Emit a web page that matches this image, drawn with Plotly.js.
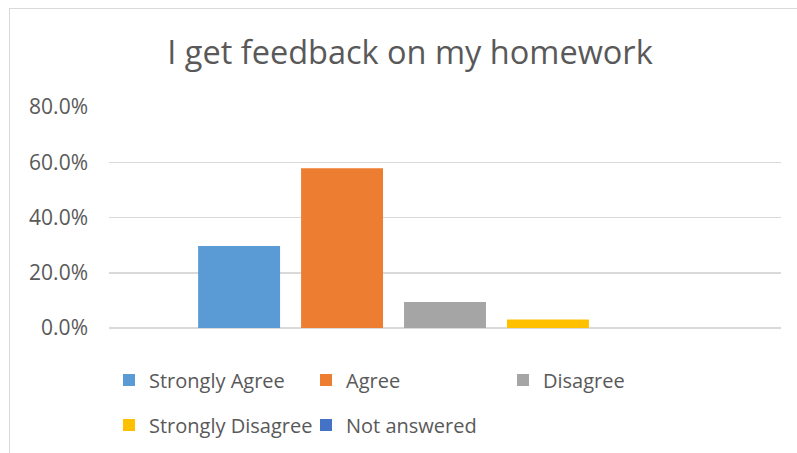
<!DOCTYPE html>
<html>
<head>
<meta charset="utf-8">
<script src="https://cdn.plot.ly/plotly-3.0.1.min.js"></script>
<style>
  html, body { margin: 0; padding: 0; background: #ffffff; overflow: hidden; }
  #wrap { position: relative; width: 797px; height: 453px; }
  #chart { position: absolute; left: 0; top: 0; width: 797px; height: 453px; }
  #frame { position: absolute; left: 9px; top: 8px; width: 800px; height: 460px;
           border: 1.5px solid #d9d9d9; pointer-events: none; box-sizing: border-box; }
</style>
</head>
<body>
<div id="wrap">
  <div id="chart"></div>
  <div id="frame"></div>
</div>
<script>
// ---- data ----
const chartTitle = "I get feedback on my homework";
const category = ["I get feedback on my homework"];
const seriesNames = ["Strongly Agree", "Agree", "Disagree", "Strongly Disagree", "Not answered"];
const stronglyAgree = [29.7];
const agree = [57.8];
const disagree = [9.4];
const stronglyDisagree = [3.1];
const notAnswered = [0.0];
const yTickVals = [0, 20, 40, 60, 80];
const yTickText = ["0.0%", "20.0%", "40.0%", "60.0%", "80.0%"];

const seriesValues = [stronglyAgree, agree, disagree, stronglyDisagree, notAnswered];
const seriesColors = ["#5B9BD5", "#ED7D31", "#A5A5A5", "#FFC000", "#4472C4"];
const seriesLegend = ["legend", "legend", "legend", "legend2", "legend2"];

const textColor = "#595959";
const fontFamily = "'Open Sans', 'Liberation Sans', sans-serif";

const traces = seriesNames.map((name, i) => ({
  type: "bar",
  name: name,
  x: category,
  y: seriesValues[i],
  marker: { color: seriesColors[i], line: { width: 0 } },
  legend: seriesLegend[i],
  hoverinfo: "name+y"
}));

const legendCommon = {
  orientation: "h",
  xref: "paper", yref: "container",
  xanchor: "left", yanchor: "middle",
  entrywidth: 152, entrywidthmode: "pixels",
  font: { family: fontFamily, size: 20, color: textColor },
  bgcolor: "rgba(0,0,0,0)",
  borderwidth: 0,
  traceorder: "normal",
  itemclick: false, itemdoubleclick: false
};

const layout = {
  width: 797,
  height: 453,
  paper_bgcolor: "rgba(0,0,0,0)",
  plot_bgcolor: "rgba(0,0,0,0)",
  margin: { l: 109, r: 16, t: 106.7, b: 124.7, pad: 0 },
  title: {
    text: chartTitle,
    font: { family: fontFamily, size: 32.5, color: textColor },
    xref: "container", x: 410 / 797, xanchor: "center",
    yref: "container", y: 1 - 53 / 453, yanchor: "middle"
  },
  barmode: "group",
  bargap: 0.234,
  bargroupgap: 0.204,
  xaxis: {
    showticklabels: false,
    showgrid: false,
    zeroline: false,
    showline: false,
    ticks: ""
  },
  yaxis: {
    range: [0, 80],
    tickvals: yTickVals,
    ticktext: yTickText,
    showgrid: true,
    gridcolor: "#d9d9d9",
    gridwidth: 1.5,
    zeroline: true,
    zerolinecolor: "#d9d9d9",
    zerolinewidth: 1.5,
    showline: false,
    ticks: "",
    ticklabelstandoff: 20,
    tickfont: { family: fontFamily, size: 21, color: textColor },
    fixedrange: true
  },
  legend: Object.assign({}, legendCommon, { x: 0, y: 1 - 380 / 453 }),
  legend2: Object.assign({}, legendCommon, { x: 0, y: 1 - 425 / 453 }),
  showlegend: true
};

Plotly.newPlot("chart", traces, layout, { displayModeBar: false, staticPlot: true });
</script>
</body>
</html>
